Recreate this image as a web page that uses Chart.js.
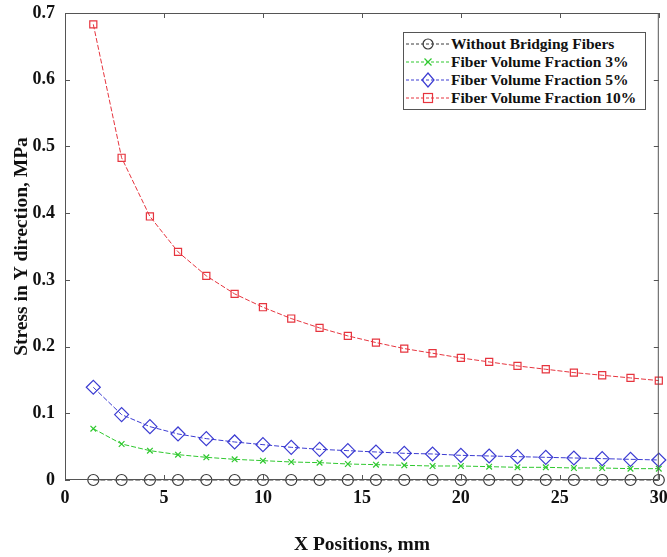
<!DOCTYPE html>
<html>
<head>
<meta charset="utf-8">
<script src="https://cdn.jsdelivr.net/npm/chart.js@4.4.1/dist/chart.umd.min.js"></script>
<style>
  body { margin: 0; background: #fff; }
  #wrap { position: relative; width: 667px; height: 557px; }
  #legend {
    position: absolute; left: 403px; top: 32px; width: 243px; height: 78px;
    border: 1px solid #555; background: #fff; box-sizing: border-box;
    font-family: "Liberation Serif", serif; font-weight: bold; font-size: 15.5px; color: #111;
    padding-top: 2px;
  }
  .row { display: flex; align-items: center; height: 18px; white-space: nowrap; }
  .row svg { margin-left: 2px; margin-right: 1px; }
</style>
</head>
<body>
<div id="wrap">
  <canvas id="grafico" width="667" height="557"></canvas>
  <div id="legend"></div>
</div>
<script>
// Posiciones X (mm)
const xPos = [1.43, 2.86, 4.29, 5.71, 7.14, 8.57, 10, 11.43, 12.86, 14.29, 15.71,
              17.14, 18.57, 20, 21.43, 22.86, 24.29, 25.71, 27.14, 28.57, 30];

// Tensiones (MPa)
const sinFibras = [0, 0, 0, 0, 0, 0, 0, 0, 0, 0, 0, 0, 0, 0, 0, 0, 0, 0, 0, 0, 0];
const fraccion3 = [0.077, 0.054, 0.044, 0.038, 0.034, 0.031, 0.029, 0.027, 0.026, 0.024, 0.023,
                   0.022, 0.021, 0.021, 0.020, 0.019, 0.019, 0.018, 0.018, 0.017, 0.017];
const fraccion5 = [0.139, 0.098, 0.080, 0.069, 0.062, 0.057, 0.053, 0.049, 0.046, 0.044, 0.042,
                   0.040, 0.039, 0.037, 0.036, 0.035, 0.034, 0.033, 0.032, 0.031, 0.030];
const fraccion10 = [0.683, 0.483, 0.395, 0.342, 0.306, 0.279, 0.259, 0.242, 0.228, 0.216, 0.206,
                    0.197, 0.190, 0.183, 0.177, 0.171, 0.166, 0.161, 0.157, 0.153, 0.149];

const etiquetas = ["Without Bridging Fibers", "Fiber Volume Fraction 3%",
                   "Fiber Volume Fraction 5%", "Fiber Volume Fraction 10%"];
const xTicks = [0, 5, 10, 15, 20, 25, 30];
const yTicks = [0, 0.1, 0.2, 0.3, 0.4, 0.5, 0.6, 0.7];

function puntos(ys) {
  return xPos.map(function (x, i) { return { x: x, y: ys[i] }; });
}

const estilos = [
  { color: "#3a3a3a", point: "circle", radius: 5.5 },
  { color: "#2ec82e", point: "crossRot", radius: 4 },
  { color: "#3c3cd2", point: "rectRot", radius: 7 },
  { color: "#e6343e", point: "rect", radius: 5 }
];
const series = [sinFibras, fraccion3, fraccion5, fraccion10];

const datasets = series.map(function (s, i) {
  const e = estilos[i];
  return {
    label: etiquetas[i],
    data: puntos(s),
    showLine: true,
    borderColor: e.color,
    backgroundColor: "rgba(0,0,0,0)",
    borderWidth: 1,
    borderDash: [5, 2],
    pointStyle: e.point,
    pointRadius: e.radius,
    pointBorderWidth: 1.2,
    pointBorderColor: e.color,
    pointBackgroundColor: "rgba(0,0,0,0)",
    clip: false
  };
});

// Marco y marcas hacia dentro (estilo MATLAB)
const marco = {
  id: "marco",
  afterDatasetsDraw: function (chart) {
    const ctx = chart.ctx;
    const a = chart.chartArea;
    const sx = chart.scales.x, sy = chart.scales.y;
    ctx.save();
    ctx.strokeStyle = "#555";
    ctx.lineWidth = 1;
    ctx.strokeRect(a.left + 0.5, a.top + 0.5, a.right - a.left - 1, a.bottom - a.top - 1);
    ctx.beginPath();
    xTicks.forEach(function (t) {
      const px = Math.round(sx.getPixelForValue(t)) + 0.5;
      ctx.moveTo(px, a.bottom); ctx.lineTo(px, a.bottom - 5);
      ctx.moveTo(px, a.top); ctx.lineTo(px, a.top + 5);
    });
    yTicks.forEach(function (t) {
      const py = Math.round(sy.getPixelForValue(t)) + 0.5;
      ctx.moveTo(a.left, py); ctx.lineTo(a.left + 5, py);
      ctx.moveTo(a.right, py); ctx.lineTo(a.right - 5, py);
    });
    ctx.stroke();
    ctx.restore();
  }
};

const fuenteTicks = { family: "'Liberation Serif', serif", weight: "bold", size: 18 };
const fuenteTitulo = { family: "'Liberation Serif', serif", weight: "bold", size: 19.5 };

const config = {
  type: "scatter",
  data: { datasets: datasets },
  options: {
    responsive: false,
    animation: false,
    layout: { padding: { top: 13, right: 8, left: 0, bottom: 0 } },
    plugins: { legend: { display: false }, tooltip: { enabled: false } },
    scales: {
      x: {
        type: "linear", min: 0, max: 30,
        afterBuildTicks: function (s) { s.ticks = xTicks.map(function (v) { return { value: v }; }); },
        afterFit: function (s) { s.height = 77; s.paddingLeft = 0; s.paddingRight = 0; },
        grid: { display: false, drawTicks: false },
        border: { display: false },
        ticks: { color: "#111", font: fuenteTicks, padding: 8, maxRotation: 0 },
        title: { display: true, text: "X Positions, mm", color: "#111", font: fuenteTitulo, padding: 0 }
      },
      y: {
        type: "linear", min: 0, max: 0.7,
        afterBuildTicks: function (s) { s.ticks = yTicks.map(function (v) { return { value: v }; }); },
        afterFit: function (s) { s.width = 65; s.paddingTop = 0; s.paddingBottom = 0; },
        grid: { display: false, drawTicks: false },
        border: { display: false },
        ticks: { color: "#111", font: fuenteTicks, padding: 10,
                 callback: function (v) { return v === 0 ? "0" : v.toFixed(1); } },
        title: { display: true, text: "Stress in Y direction, MPa", color: "#111", font: fuenteTitulo,
                 padding: { top: 10, bottom: 0 } }
      }
    }
  },
  plugins: [marco]
};

new Chart(document.getElementById("grafico").getContext("2d"), config);

// Leyenda dentro del area del grafico
const simbolos = [
  '<circle cx="22" cy="8" r="5" fill="none" stroke="COL" stroke-width="1.2"/>',
  '<path d="M18.5 4.5 L25.5 11.5 M25.5 4.5 L18.5 11.5" stroke="COL" stroke-width="1.2"/>',
  '<path d="M22 1 L28 8 L22 15 L16 8 Z" fill="none" stroke="COL" stroke-width="1.2"/>',
  '<rect x="17.5" y="3.5" width="9" height="9" fill="none" stroke="COL" stroke-width="1.2"/>'
];
const leyenda = document.getElementById("legend");
etiquetas.forEach(function (txt, i) {
  const c = estilos[i].color;
  const svg = '<svg width="44" height="16"><line x1="0" y1="8" x2="44" y2="8" stroke="' + c +
    '" stroke-width="1" stroke-dasharray="3,2"/>' + simbolos[i].replace(/COL/g, c) + '</svg>';
  const row = document.createElement("div");
  row.className = "row";
  row.innerHTML = svg + "<span>" + txt + "</span>";
  leyenda.appendChild(row);
});
</script>
</body>
</html>
